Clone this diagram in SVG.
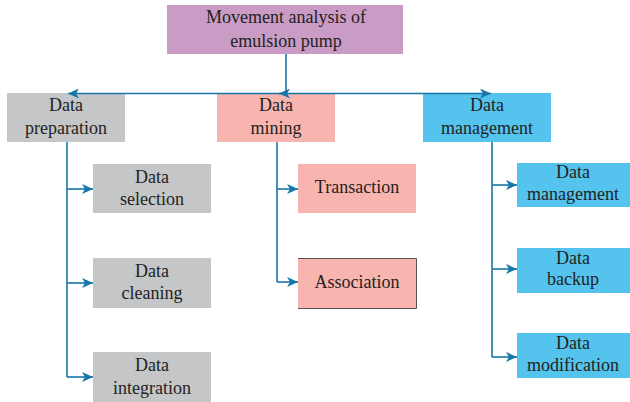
<svg xmlns="http://www.w3.org/2000/svg" width="630" height="402" viewBox="0 0 630 402">
<style>
text{font-family:"Liberation Serif","DejaVu Serif",serif;font-size:18px;fill:#231f20;text-anchor:middle}
.ln{fill:none;stroke:#1775a8;stroke-width:1.6}
.gray{fill:#c4c6c7}.pink{fill:#f8b5b0}.blue{fill:#54c3ee}.purple{fill:#c99bc5}
</style>
<defs>
<marker id="ah" markerWidth="12" markerHeight="10" refX="11" refY="5" orient="auto" markerUnits="userSpaceOnUse">
<path d="M0,0 L11,5 L0,10 L3,5 Z" fill="#1775a8"/>
</marker>
</defs>
<rect width="630" height="402" fill="#fff"/>
<g id="root"><rect class="purple" x="167" y="5" width="236" height="49"/><text x="286" y="23">Movement analysis of</text><text x="286" y="47">emulsion pump</text></g>
<g id="prep"><rect class="gray" x="7" y="93" width="118" height="49"/><text x="66" y="111">Data</text><text x="66" y="134">preparation</text></g>
<g id="mining"><rect class="pink" x="217" y="93" width="118" height="49"/><text x="276" y="111">Data</text><text x="276" y="134">mining</text></g>
<g id="mgmt"><rect class="blue" x="423" y="93" width="128" height="49"/><text x="487" y="111">Data</text><text x="487" y="134">management</text></g>
<g id="selection"><rect class="gray" x="93" y="164" width="118" height="49"/><text x="152" y="183">Data</text><text x="152" y="205">selection</text></g>
<g id="cleaning"><rect class="gray" x="93" y="258" width="118" height="50"/><text x="152" y="277">Data</text><text x="152" y="299">cleaning</text></g>
<g id="integration"><rect class="gray" x="93" y="352" width="118" height="50"/><text x="152" y="371">Data</text><text x="152" y="394">integration</text></g>
<g id="transaction"><rect class="pink" x="298" y="164" width="118" height="49"/><text x="357" y="193">Transaction</text></g>
<g id="association"><rect class="pink" x="298" y="258" width="118" height="50"/><path d="M298,258.5H416.5V308.5H298" fill="none" stroke="#555" stroke-width="1"/><text x="357" y="288">Association</text></g>
<g id="mgmt2"><rect class="blue" x="517" y="163" width="113" height="44"/><text x="573" y="178">Data</text><text x="573" y="200">management</text></g>
<g id="backup"><rect class="blue" x="517" y="248" width="113" height="45"/><text x="573" y="264">Data</text><text x="573" y="285">backup</text></g>
<g id="modification"><rect class="blue" x="517" y="333" width="113" height="45"/><text x="573" y="349">Data</text><text x="573" y="371">modification</text></g>
<g id="connectors">
<path class="ln" d="M286,54V93.5"/>
<path class="ln" d="M286,93.5H68" marker-end="url(#ah)"/>
<path class="ln" d="M286,93.5H279" marker-end="url(#ah)"/>
<path class="ln" d="M286,93.5H491" marker-end="url(#ah)"/>
<path class="ln" d="M67,142V377"/>
<path class="ln" d="M67,189H93" marker-end="url(#ah)"/>
<path class="ln" d="M67,283H93" marker-end="url(#ah)"/>
<path class="ln" d="M67,377H93" marker-end="url(#ah)"/>
<path class="ln" d="M277,142V282"/>
<path class="ln" d="M277,189H298" marker-end="url(#ah)"/>
<path class="ln" d="M277,282H298" marker-end="url(#ah)"/>
<path class="ln" d="M492,142V357"/>
<path class="ln" d="M492,185H517" marker-end="url(#ah)"/>
<path class="ln" d="M492,269H517" marker-end="url(#ah)"/>
<path class="ln" d="M492,357H517" marker-end="url(#ah)"/>
</g>
</svg>
